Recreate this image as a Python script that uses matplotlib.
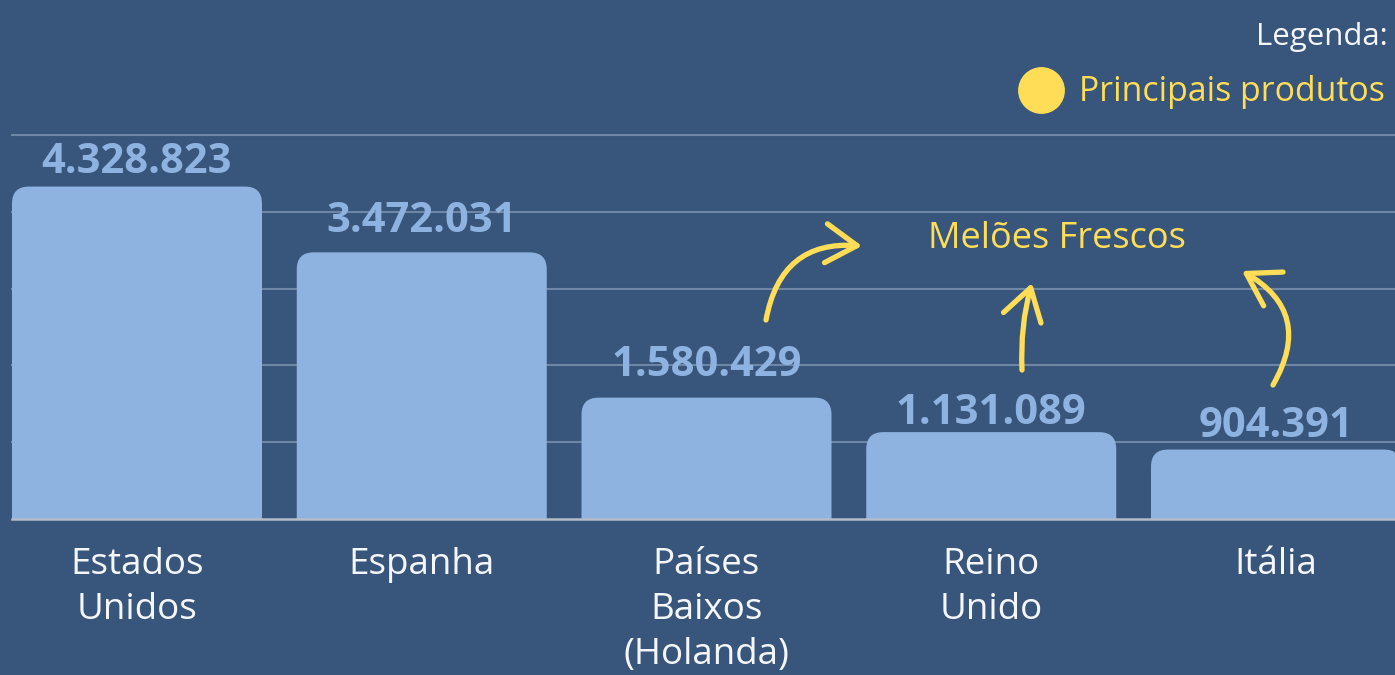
import matplotlib
matplotlib.use("Agg")
import matplotlib.pyplot as plt
from matplotlib.patches import FancyBboxPatch, FancyArrowPatch
from matplotlib.lines import Line2D

paises = ["Estados\nUnidos", "Espanha", "Países\nBaixos\n(Holanda)", "Reino\nUnido", "Itália"]
valores = [4328823, 3472031, 1580429, 1131089, 904391]
rotulos = ["4.328.823", "3.472.031", "1.580.429", "1.131.089", "904.391"]
grade = [1e6, 2e6, 3e6, 4e6, 5e6]

W, H = 1395, 675
FUNDO = "#38557b"
BARRA = "#8fb3e0"
AMARELO = "#ffdd57"
FONTE = ["Open Sans", "DejaVu Sans"]

# distancia (px) entre o topo da barra e a base do numero, como no original
folga = [14, 20, 22, 8, 13]

fig = plt.figure(figsize=(W / 100, H / 100), dpi=100, facecolor=FUNDO)
ax = fig.add_axes([0, (H - 519) / H, 1, 519 / H])
ax.set_facecolor(FUNDO)
for s in ax.spines.values():
    s.set_visible(False)
ax.set_xticks([])
ax.set_yticks([])

px_x = 284.75  # px por unidade x
px_y = 76.8 / 1e6  # px por unidade y
ax.set_xlim(-137 / px_x, (W - 137) / px_x)
ax.set_ylim(0, 519 / px_y)

largura = 250 / px_x
raio = 17 / px_x
aspecto = (1 / px_y) / (1 / px_x)

for y in grade:
    ax.axhline(y, xmin=12 / W, color="#6f87a6", lw=1.5, zorder=1)

for i, v in enumerate(valores):
    p = FancyBboxPatch((i - largura / 2, -0.5e6), largura, v + 0.5e6,
                       boxstyle=f"round,pad=0,rounding_size={raio}",
                       mutation_aspect=aspecto, fc=BARRA, ec="none", zorder=2)
    ax.add_patch(p)
    ax.annotate(rotulos[i], (i, v), xytext=(0, folga[i] * 0.72), textcoords="offset points",
                ha="center", va="baseline", fontsize=30, fontweight="bold",
                color=BARRA, family=FONTE, zorder=3)
    # uma linha de cada vez, para controlar o espacamento
    for j, linha in enumerate(paises[i].split("\n")):
        ax.annotate(linha, (i, 0), xytext=(0, -(55 + 45 * j) * 0.72),
                    textcoords="offset points", ha="center", va="baseline",
                    fontsize=26.5, color="#f4f6fa", family=FONTE, annotation_clip=False)

ax.axhline(0, xmin=12 / W, color="#b3bcc8", lw=1.8, zorder=4, clip_on=False)


def fx(p):
    return p / W


def fy(p):
    return 1 - p / H


# legenda
fig.text(fx(1388), fy(45), "Legenda:", ha="right", va="baseline", fontsize=22.5,
         color="#f4f6fa", family=FONTE)
fig.add_artist(Line2D([fx(1041)], [fy(90)], marker="o", ms=32.7, color=AMARELO,
                      transform=fig.transFigure))
fig.text(fx(1079), fy(101), "Principais produtos", ha="left", va="baseline",
         fontsize=24.4, color=AMARELO, family=FONTE)

fig.text(fx(1057), fy(248), "Melões Frescos", ha="center", va="baseline",
         fontsize=26, color=AMARELO, family=FONTE)

setas = [((766, 320), (862, 246), -0.45),
         ((1022, 370), (1032, 283), -0.08),
         ((1273, 385), (1242, 271), 0.5)]
for a, b, r in setas:
    seta = FancyArrowPatch((fx(a[0]), fy(a[1])), (fx(b[0]), fy(b[1])),
                           transform=fig.transFigure,
                           connectionstyle=f"arc3,rad={r}",
                           arrowstyle="->,head_length=0.8,head_width=0.5",
                           mutation_scale=28, lw=3.8, color=AMARELO,
                           capstyle="round", joinstyle="round",
                           shrinkA=0, shrinkB=0)
    fig.add_artist(seta)

fig.savefig("out.png", dpi=100, facecolor=FUNDO)
